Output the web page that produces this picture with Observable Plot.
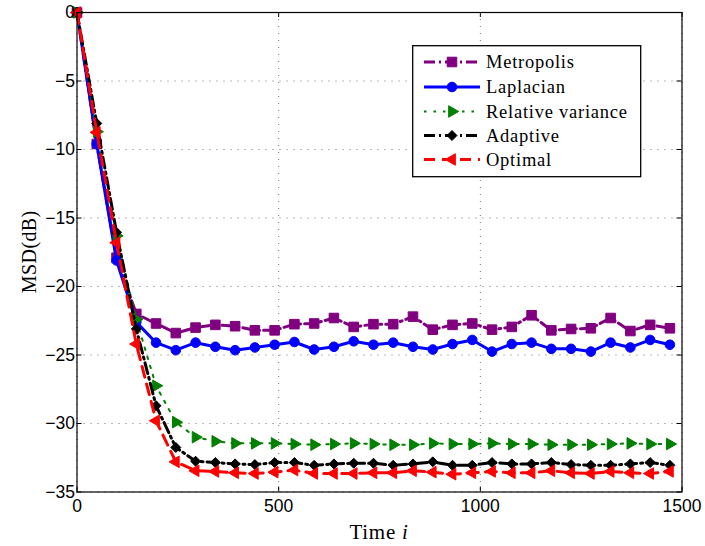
<!DOCTYPE html>
<html>
<head>
<meta charset="utf-8">
<script src="https://cdn.jsdelivr.net/npm/d3@7"></script>
<script src="https://cdn.jsdelivr.net/npm/@observablehq/plot@0.6"></script>
<style>
  html, body { margin: 0; padding: 0; background: #fff; }
  #chart { width: 705px; height: 546px; }
</style>
</head>
<body>
<div id="chart"></div>
<script>
// Time index of each plotted sample
const times = [0, 49, 98, 147, 196, 245, 294, 343, 392, 441, 490, 539, 588, 637, 686, 735,
  784, 833, 882, 931, 980, 1029, 1078, 1127, 1176, 1225, 1274, 1323, 1372, 1421, 1470];

// Network MSD (dB) for each combination rule
const metropolis = [0, -9.6, -17.9, -22.0, -22.7, -23.4, -23.0, -22.8, -22.9, -23.2, -23.2,
  -22.75, -22.7, -22.3, -22.95, -22.75, -22.75, -22.2, -23.15, -22.8, -22.7,
  -23.15, -22.95, -22.1, -23.2, -23.1, -23.05, -22.3, -23.25, -22.8, -23.05];
const laplacian = [0, -9.6, -18.1, -22.6, -24.1, -24.65, -24.1, -24.4, -24.65, -24.45, -24.25,
  -24.05, -24.6, -24.4, -24.0, -24.25, -24.1, -24.4, -24.6, -24.2, -23.9,
  -24.75, -24.2, -24.1, -24.55, -24.55, -24.75, -24.1, -24.45, -23.9, -24.25];
const relativeVariance = [0, -8.7, -16.3, -22.4, -27.25, -29.9, -31.0, -31.3, -31.45, -31.45, -31.45,
  -31.5, -31.55, -31.5, -31.45, -31.5, -31.55, -31.55, -31.45, -31.5, -31.5,
  -31.45, -31.5, -31.5, -31.55, -31.55, -31.55, -31.5, -31.45, -31.5, -31.5];
const adaptive = [0, -8.1, -16.05, -23.1, -28.7, -31.75, -32.75, -32.85, -32.95, -33.0, -32.85,
  -32.85, -33.05, -32.95, -32.9, -32.9, -33.05, -32.95, -32.8, -33.05, -33.05,
  -32.85, -32.95, -32.95, -32.85, -33.0, -33.05, -33.05, -32.95, -32.85, -33.05];
const optimal = [0, -8.75, -16.8, -24.2, -29.8, -32.8, -33.45, -33.5, -33.6, -33.65, -33.55,
  -33.4, -33.65, -33.65, -33.65, -33.6, -33.6, -33.45, -33.55, -33.7, -33.6,
  -33.5, -33.6, -33.6, -33.45, -33.6, -33.65, -33.5, -33.6, -33.65, -33.5];

const xTicks = [0, 500, 1000, 1500];
const yTicks = [-35, -30, -25, -20, -15, -10, -5, 0];

// Series styles (line pattern + marker)
const series = [
  {name: "Metropolis", values: metropolis, color: "#800080", width: 3, dash: "11,4,2,4",
   symbol: "square", r: 5.4, rotate: 0},
  {name: "Laplacian", values: laplacian, color: "#0000ff", width: 3, dash: null,
   symbol: "circle", r: 4.8, rotate: 0},
  {name: "Relative variance", values: relativeVariance, color: "#008000", width: 2, dash: "2.5,7",
   symbol: "triangle", r: 4.3, rotate: 90},
  {name: "Adaptive", values: adaptive, color: "#000000", width: 3, dash: "11,4,2,4",
   symbol: "diamond2", r: 4.5, rotate: 0},
  {name: "Optimal", values: optimal, color: "#ff0000", width: 3, dash: "11,7",
   symbol: "triangle", r: 4.3, rotate: -90}
];

const W = 705, H = 546;
const mL = 76.5, mR = 23.5, mT = 12, mB = 54.5;
const plotW = W - mL - mR, plotH = H - mT - mB;

const marks = [
  Plot.gridX(xTicks, {stroke: "#000", strokeOpacity: 0.55, strokeDasharray: "1,6"}),
  Plot.gridY(yTicks, {stroke: "#000", strokeOpacity: 0.55, strokeDasharray: "1,6"})
];
for (const s of series) {
  const rows = times.map((t, i) => ({t, v: s.values[i]}));
  marks.push(Plot.line(rows, {x: "t", y: "v", stroke: s.color, strokeWidth: s.width,
    strokeDasharray: s.dash, strokeLinejoin: "round"}));
  marks.push(Plot.dot(rows, {x: "t", y: "v", symbol: s.symbol, r: s.r, rotate: s.rotate,
    fill: s.color, stroke: s.color, strokeWidth: 1}));
}
// Box with inward ticks on all four sides
marks.push(
  Plot.frame({stroke: "#000", strokeWidth: 1.2}),
  Plot.ruleX(xTicks, {x: d => d, insetTop: plotH - 5, stroke: "#000"}),
  Plot.ruleX(xTicks, {x: d => d, insetBottom: plotH - 5, stroke: "#000"}),
  Plot.ruleY(yTicks, {y: d => d, insetRight: plotW - 5, stroke: "#000"}),
  Plot.ruleY(yTicks, {y: d => d, insetLeft: plotW - 5, stroke: "#000"}),
  Plot.axisX(xTicks, {tickSize: 0, tickPadding: 8, label: null, tickFormat: d3.format("d")}),
  Plot.axisY(yTicks, {tickSize: 0, tickPadding: 2, label: null})
);

const chart = Plot.plot({
  width: W, height: H,
  marginLeft: mL, marginRight: mR, marginTop: mT, marginBottom: mB,
  x: {domain: [0, 1500]},
  y: {domain: [-35, 0]},
  style: {fontFamily: "'Liberation Sans', Arial, sans-serif", fontSize: "17.5px",
          background: "#fff", color: "#000", overflow: "visible"},
  marks
});
document.getElementById("chart").appendChild(chart);

const svg = d3.select(chart);
const serif = "'Liberation Serif', 'Times New Roman', serif";

// Axis titles
svg.append("text")
  .attr("transform", `translate(29,${mT + plotH / 2}) rotate(-90)`)
  .attr("text-anchor", "middle").attr("dominant-baseline", "central")
  .style("font-family", serif).style("font-size", "20px").style("letter-spacing", "0.4px")
  .text("MSD(dB)");
const xl = svg.append("text")
  .attr("x", mL + plotW / 2).attr("y", 539)
  .attr("text-anchor", "middle")
  .style("font-family", serif).style("font-size", "21px").style("letter-spacing", "0.7px");
xl.append("tspan").text("Time ");
xl.append("tspan").style("font-style", "italic").text("i");

// Legend
const lg = svg.append("g").attr("text-anchor", "start");
lg.append("rect").attr("x", 412.7).attr("y", 45.7).attr("width", 228).attr("height", 131)
  .attr("fill", "#fff").attr("stroke", "#000").attr("stroke-width", 1.3);
const rowY = [62, 87, 111.5, 135.5, 159.5];
series.forEach((s, i) => {
  const y = rowY[i];
  lg.append("line").attr("x1", 424).attr("x2", 480).attr("y1", y).attr("y2", y)
    .attr("stroke", s.color).attr("stroke-width", s.width)
    .attr("stroke-dasharray", s.dash || null);
  const type = {square: d3.symbolSquare, circle: d3.symbolCircle, triangle: d3.symbolTriangle,
                diamond2: d3.symbolDiamond2}[s.symbol];
  lg.append("path").attr("d", d3.symbol(type, s.r * s.r * Math.PI)())
    .attr("transform", `translate(452,${y}) rotate(${s.rotate})`)
    .attr("fill", s.color).attr("stroke", s.color);
  lg.append("text").attr("x", 486).attr("y", y).attr("dy", "0.33em")
    .attr("text-anchor", "start")
    .style("font-family", serif).style("font-size", "18.5px").style("letter-spacing", "0.75px")
    .text(s.name);
});
</script>
</body>
</html>
